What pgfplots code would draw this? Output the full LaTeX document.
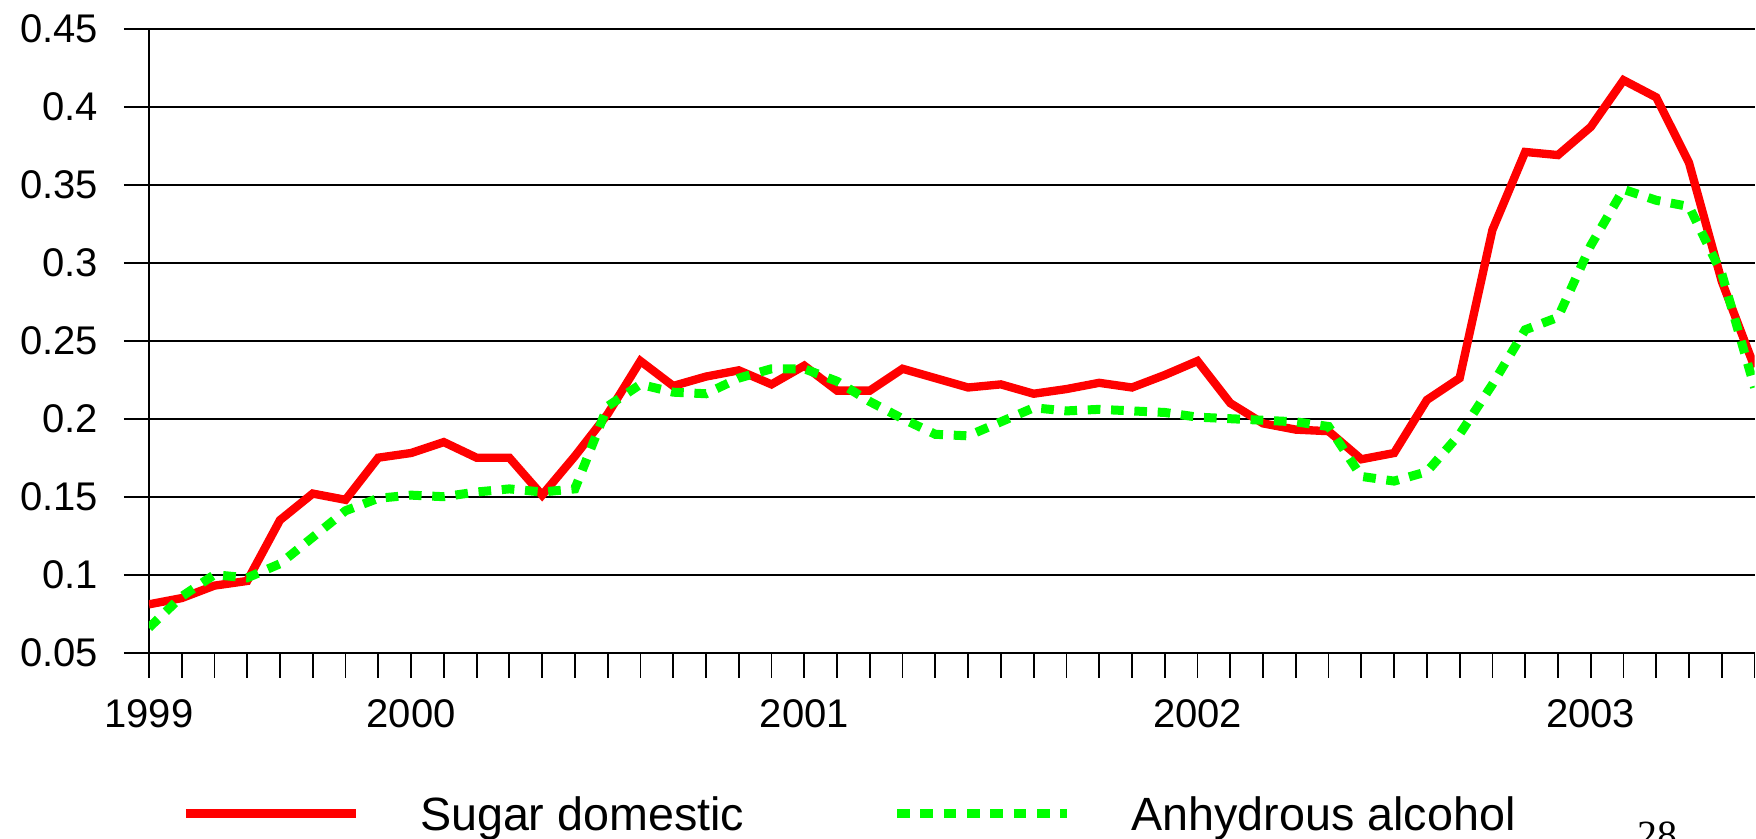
\documentclass[border=0pt]{standalone}
\usepackage{pgfplots}
\usepackage{pgfplotstable}
\pgfplotsset{compat=1.18}
\usepackage{fontspec}
\setmainfont{Liberation Sans}
\newfontfamily\seriffont{Liberation Serif}
\definecolor{sred}{RGB}{255,0,0}
\definecolor{sgreen}{RGB}{0,255,0}

\pgfplotstableread{
idx sugar alcohol
0 0.081 0.066
1 0.085 0.086
2 0.093 0.100
3 0.096 0.098
4 0.135 0.107
5 0.152 0.124
6 0.148 0.141
7 0.175 0.149
8 0.178 0.151
9 0.185 0.150
10 0.175 0.153
11 0.175 0.155
12 0.151 0.153
13 0.176 0.155
14 0.203 0.208
15 0.237 0.222
16 0.221 0.217
17 0.227 0.216
18 0.231 0.226
19 0.222 0.232
20 0.234 0.232
21 0.218 0.224
22 0.218 0.211
23 0.232 0.200
24 0.226 0.190
25 0.220 0.189
26 0.222 0.198
27 0.216 0.207
28 0.219 0.205
29 0.223 0.206
30 0.220 0.205
31 0.228 0.204
32 0.237 0.201
33 0.210 0.200
34 0.197 0.199
35 0.193 0.198
36 0.192 0.195
37 0.174 0.163
38 0.178 0.160
39 0.212 0.166
40 0.226 0.190
41 0.321 0.222
42 0.371 0.257
43 0.369 0.265
44 0.387 0.311
45 0.417 0.347
46 0.406 0.340
47 0.364 0.336
48 0.288 0.293
49 0.233 0.220
}\datatable

\begin{document}
\begin{tikzpicture}
\useasboundingbox (-44.67pt,-55.59pt) rectangle (482.13pt,195.81pt);
\begin{axis}[
  at={(0pt,0pt)}, anchor=south west,
  scale only axis, width=481.7pt, height=187.2pt,
  xmin=0, xmax=49, ymin=0.05, ymax=0.45,
  axis x line=bottom, axis y line=left,
  axis line style={-, line width=0.55pt, black},
  xtick={0,8,20,32,44}, xticklabels={1999,2000,2001,2002,2003},
  minor xtick={0,...,49},
  ytick={0.05,0.1,0.15,0.2,0.25,0.3,0.35,0.4,0.45},
  yticklabels={0.05,0.1,0.15,0.2,0.25,0.3,0.35,0.4,0.45},
  scaled y ticks=false,
  tick align=outside, major tick length=7.5pt, minor tick length=7.5pt,
  tick style={black, line width=0.55pt},
  ymajorgrids, grid style={black, line width=0.55pt},
  ticklabel style={font=\fontsize{12}{14}\selectfont},
  yticklabel style={anchor=east, inner sep=0pt, xshift=-7.5pt},
  xticklabel style={anchor=north, inner sep=0pt, yshift=-6.5pt},
  /pgf/number format/assume math mode=true,
  legend columns=2,
  legend cell align=left,
  legend image code/.code={\draw[#1] (0pt,0pt) -- (51pt,0pt); \path (69pt,0pt);},
  legend style={at={(0.0200,-0.2575)}, anchor=west, draw=none, fill=none,
    inner sep=0pt, font=\fontsize{14}{16}\selectfont,
    nodes={inner sep=0pt, text depth=0pt},
    /tikz/every even column/.append style={column sep=44.5pt}},
]
\addplot[sred, line width=2.5pt, mark=none]
  table[x=idx, y=sugar] {\datatable};
\addlegendentry{Sugar domestic}
\addplot[sgreen, line width=2.7pt, mark=none, dash pattern=on 3.8pt off 3.2pt]
  table[x=idx, y=alcohol] {\datatable};
\addlegendentry{Anhydrous alcohol}
\end{axis}
\node[anchor=north, inner sep=0pt, font=\seriffont\fontsize{12}{14}\selectfont] at (452.7pt,-50.5pt) {28};
\end{tikzpicture}
\end{document}
